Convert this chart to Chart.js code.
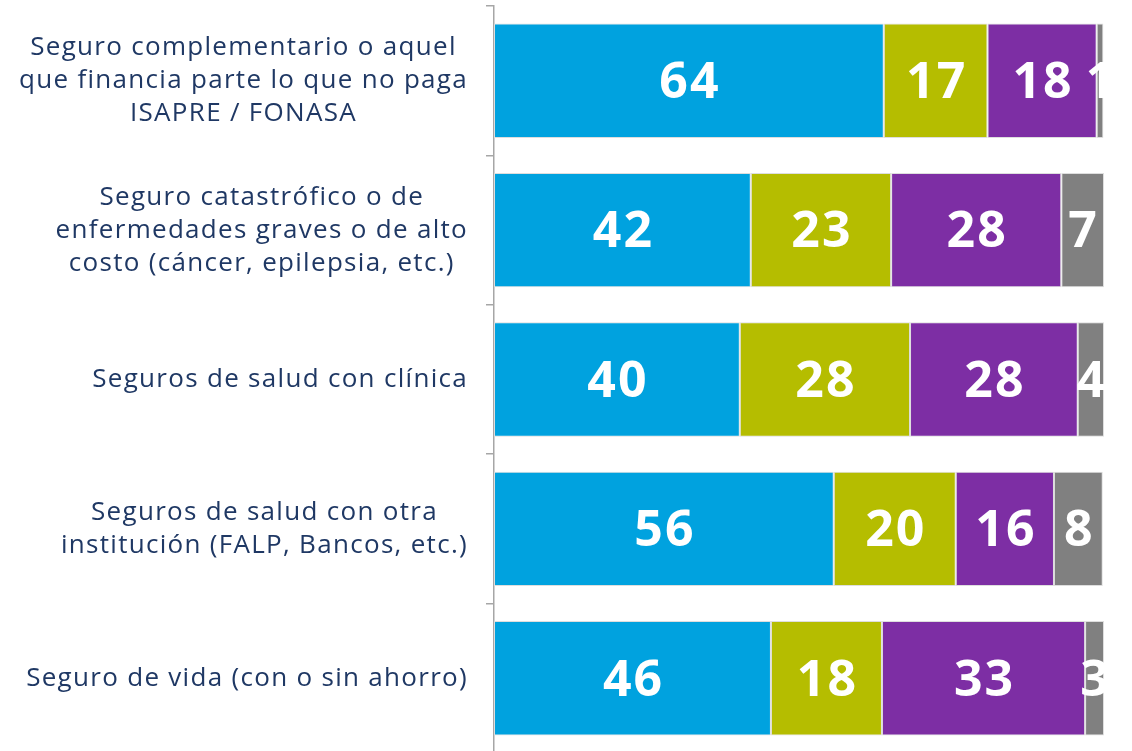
<!DOCTYPE html>
<html>
<head>
<meta charset="utf-8">
<script src="https://cdn.jsdelivr.net/npm/chart.js@4/dist/chart.umd.min.js"></script>
<style>
  html, body { margin: 0; padding: 0; background: #ffffff; overflow: hidden; }
  #wrap { width: 1132px; height: 760px; }
</style>
</head>
<body>
<div id="wrap"><canvas id="c" width="1132" height="760"></canvas></div>
<script>
const categories = [
  ["Seguro complementario o aquel", "que financia parte lo que no paga", "ISAPRE / FONASA"],
  ["Seguro catastrófico o de", "enfermedades graves o de alto", "costo (cáncer, epilepsia, etc.)"],
  ["Seguros de salud con clínica"],
  ["Seguros de salud con otra", "institución (FALP, Bancos, etc.)"],
  ["Seguro de vida (con o sin ahorro)"]
];
const serieAzul   = [63.9, 42.1, 40.3, 55.7, 45.4];
const serieOliva  = [17.0, 23.0, 27.9, 20.0, 18.2];
const serieMorada = [17.9, 27.9, 27.5, 16.1, 33.3];
const serieGris   = [1.1, 7.0, 4.3, 8.0, 3.1];
const labelsAzul   = ["64", "42", "40", "56", "46"];
const labelsOliva  = ["17", "23", "28", "20", "18"];
const labelsMorada = ["18", "28", "28", "16", "33"];
const labelsGris   = ["1", "7", "4", "8", "3"];

const LABEL_FONT = '26px "Open Sans"';
const VALUE_FONT = 'bold 50px "Open Sans"';

const valueLabels = {
  id: 'valueLabels',
  afterDatasetsDraw(chart) {
    const ctx = chart.ctx, area = chart.chartArea;
    ctx.save();
    ctx.beginPath();
    ctx.rect(area.left, area.top, area.right - area.left, area.bottom - area.top);
    ctx.clip();
    ctx.font = VALUE_FONT;
    ctx.letterSpacing = '2px';
    ctx.fillStyle = '#ffffff';
    ctx.textAlign = 'center';
    ctx.textBaseline = 'middle';
    chart.data.datasets.forEach((ds, di) => {
      const meta = chart.getDatasetMeta(di);
      meta.data.forEach((bar, i) => {
        const cx = (bar.x + bar.base) / 2 + 1;
        ctx.fillText(ds.valueText[i], cx, bar.y + 3);
      });
    });
    ctx.restore();
  }
};

const catLabels = {
  id: 'catLabels',
  afterDraw(chart) {
    const ctx = chart.ctx, y = chart.scales.y;
    const right = chart.chartArea.left - 26;
    const lh = 33;
    ctx.save();
    ctx.font = LABEL_FONT;
    ctx.letterSpacing = '1.3px';
    ctx.fillStyle = '#1f3864';
    ctx.textAlign = 'center';
    ctx.textBaseline = 'middle';
    categories.forEach((lines, i) => {
      const maxW = Math.max(...lines.map(l => ctx.measureText(l).width));
      const cx = right - maxW / 2;
      const cy = y.getPixelForValue(i);
      const start = cy - (lines.length - 1) * lh / 2;
      lines.forEach((l, k) => ctx.fillText(l, cx, start + k * lh));
    });
    ctx.restore();
  }
};

const mk = (label, data, color, txt) => ({
  label, data, valueText: txt,
  backgroundColor: color,
  borderColor: '#dedede',
  borderWidth: 1,
  borderSkipped: false,
  barPercentage: 0.766,
  categoryPercentage: 1.0
});

new Chart(document.getElementById('c'), {
  type: 'bar',
  data: {
    labels: categories.map(c => c.join(' ')),
    datasets: [
      mk('Serie 1', serieAzul, '#00a2df', labelsAzul),
      mk('Serie 2', serieOliva, '#b5bd00', labelsOliva),
      mk('Serie 3', serieMorada, '#7d2ea4', labelsMorada),
      mk('Serie 4', serieGris, '#808080', labelsGris)
    ]
  },
  options: {
    indexAxis: 'y',
    responsive: false,
    animation: false,
    layout: { padding: { left: 0, right: 28, top: 6, bottom: 7 } },
    plugins: { legend: { display: false }, tooltip: { enabled: false } },
    scales: {
      x: { stacked: true, min: 0, max: 100, display: false },
      y: {
        stacked: true,
        afterFit(s) { s.width = 494; },
        ticks: { display: false },
        grid: { offset: true, drawOnChartArea: false, drawTicks: true, tickLength: 8, color: '#a6a6a6', lineWidth: 1.5 },
        border: { display: true, color: '#a6a6a6', width: 1.5 }
      }
    }
  },
  plugins: [valueLabels, catLabels]
});
</script>
</body>
</html>
